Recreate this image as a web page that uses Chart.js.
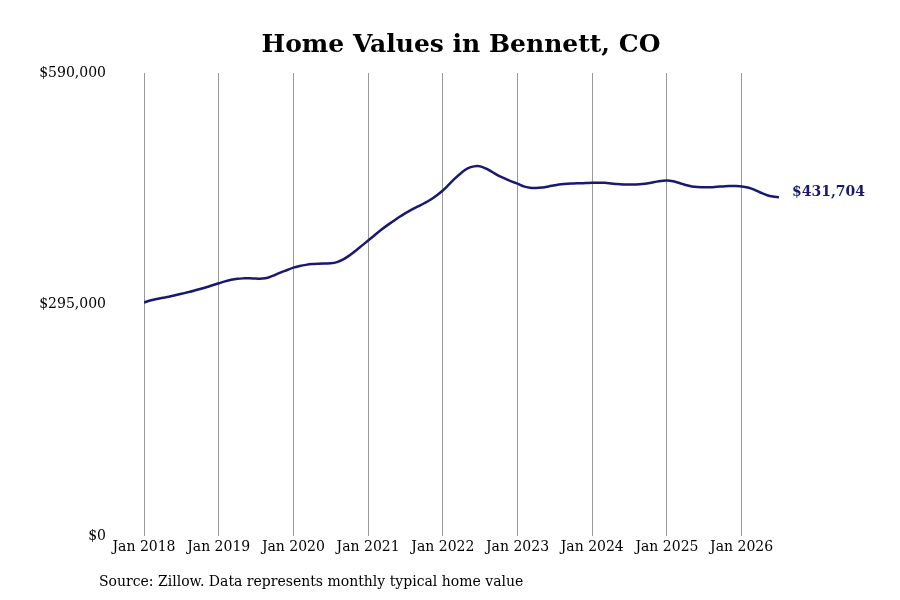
<!DOCTYPE html>
<html>
<head>
<meta charset="utf-8">
<script src="https://cdn.jsdelivr.net/npm/chart.js@4"></script>
<style>
  html, body { margin: 0; padding: 0; background: #fff; }
  #wrap { width: 900px; height: 600px; }
</style>
</head>
<body>
<div id="wrap"><canvas id="homeValuesChart"></canvas></div>
<script>
// monthly typical home value, Jan 2018 .. Jul 2026
const startYear = 2018;
const values2018 = [297500, 300000, 302000, 303500, 305000, 306800, 308600, 310500, 312500, 314700, 317000, 319500];
const values2019 = [322000, 324500, 326500, 327800, 328300, 328300, 328000, 328000, 329500, 332500, 336000, 339000];
const values2020 = [342000, 344000, 345500, 346500, 347000, 347300, 347500, 349000, 352500, 357500, 363500, 370000];
const values2021 = [376500, 383000, 389500, 395500, 401000, 406500, 411500, 416000, 420000, 424000, 428500, 434000];
const values2022 = [440300, 448000, 456000, 463000, 468500, 471000, 471000, 468000, 463500, 459000, 455500, 452000];
const values2023 = [449000, 445500, 443800, 443500, 444200, 445500, 447000, 448300, 449000, 449300, 449500, 449800];
const values2024 = [450100, 450200, 450000, 449300, 448500, 448000, 447900, 448000, 448500, 449500, 451000, 452500];
const values2025 = [453000, 452000, 449800, 447300, 445500, 444700, 444400, 444500, 445000, 445500, 446000, 446000];
const values2026 = [445500, 444000, 441300, 437700, 434500, 432500, 431704];
const yTicks = [0, 295000, 590000];

const homeValues = [].concat(values2018, values2019, values2020, values2021, values2022,
    values2023, values2024, values2025, values2026);
const points = homeValues.map((v, i) => ({ x: i, y: v }));

const lineColor = '#191970';
const serif = "'DejaVu Serif', serif";

function money(v) {
    return '$' + Math.round(v).toLocaleString('en-US');
}

const extraText = {
    id: 'extraText',
    afterDraw(chart) {
        const ctx = chart.ctx;
        const meta = chart.getDatasetMeta(0);
        const last = meta.data[meta.data.length - 1];
        ctx.save();
        ctx.fillStyle = lineColor;
        ctx.font = 'bold 14px ' + serif;
        ctx.textAlign = 'left';
        ctx.textBaseline = 'middle';
        ctx.fillText(money(homeValues[homeValues.length - 1]), last.x + 13, last.y - 5);

        ctx.fillStyle = '#000';
        ctx.font = '14px ' + serif;
        ctx.textBaseline = 'middle';
        ctx.fillText('Source: Zillow. Data represents monthly typical home value', 99, 582);
        ctx.restore();
    }
};

new Chart(document.getElementById('homeValuesChart'), {
    type: 'line',
    data: {
        datasets: [{
            label: 'Home value',
            data: points,
            borderColor: lineColor,
            borderWidth: 2.5,
            pointRadius: 0,
            tension: 0.4,
            fill: false
        }]
    },
    options: {
        responsive: true,
        maintainAspectRatio: false,
        animation: false,
        layout: {
            padding: { left: 22, right: 0, top: 0, bottom: 0 }
        },
        scales: {
            x: {
                type: 'linear',
                min: 0,
                max: homeValues.length - 1,
                afterBuildTicks(scale) {
                    const ticks = [];
                    for (let m = 0; m < homeValues.length; m += 12) ticks.push({ value: m });
                    scale.ticks = ticks;
                },
                afterFit(scale) { scale.height = 64; },
                grid: { display: true, color: '#999', lineWidth: 1, drawTicks: false },
                border: { display: false },
                ticks: {
                    padding: 3,
                    color: '#000',
                    font: { family: serif, size: 14 },
                    maxRotation: 0,
                    callback: v => 'Jan ' + (startYear + v / 12)
                }
            },
            y: {
                min: yTicks[0],
                max: yTicks[yTicks.length - 1],
                afterBuildTicks(scale) {
                    scale.ticks = yTicks.map(v => ({ value: v }));
                },
                afterFit(scale) { scale.width = 122; },
                grid: { display: false, drawTicks: false },
                border: { display: false },
                ticks: {
                    padding: 38,
                    color: '#000',
                    font: { family: serif, size: 14 },
                    callback: v => money(v)
                }
            },
            yRight: {
                position: 'right',
                display: true,
                afterFit(scale) { scale.width = 121; },
                grid: { display: false, drawTicks: false },
                border: { display: false },
                ticks: { display: false }
            }
        },
        plugins: {
            legend: { display: false },
            tooltip: { enabled: false },
            title: {
                display: true,
                text: 'Home Values in Bennett, CO',
                color: '#000',
                font: { family: serif, size: 25, weight: 'bold' },
                padding: { top: 30, bottom: 13 }
            }
        }
    },
    plugins: [extraText]
});
</script>
</body>
</html>
